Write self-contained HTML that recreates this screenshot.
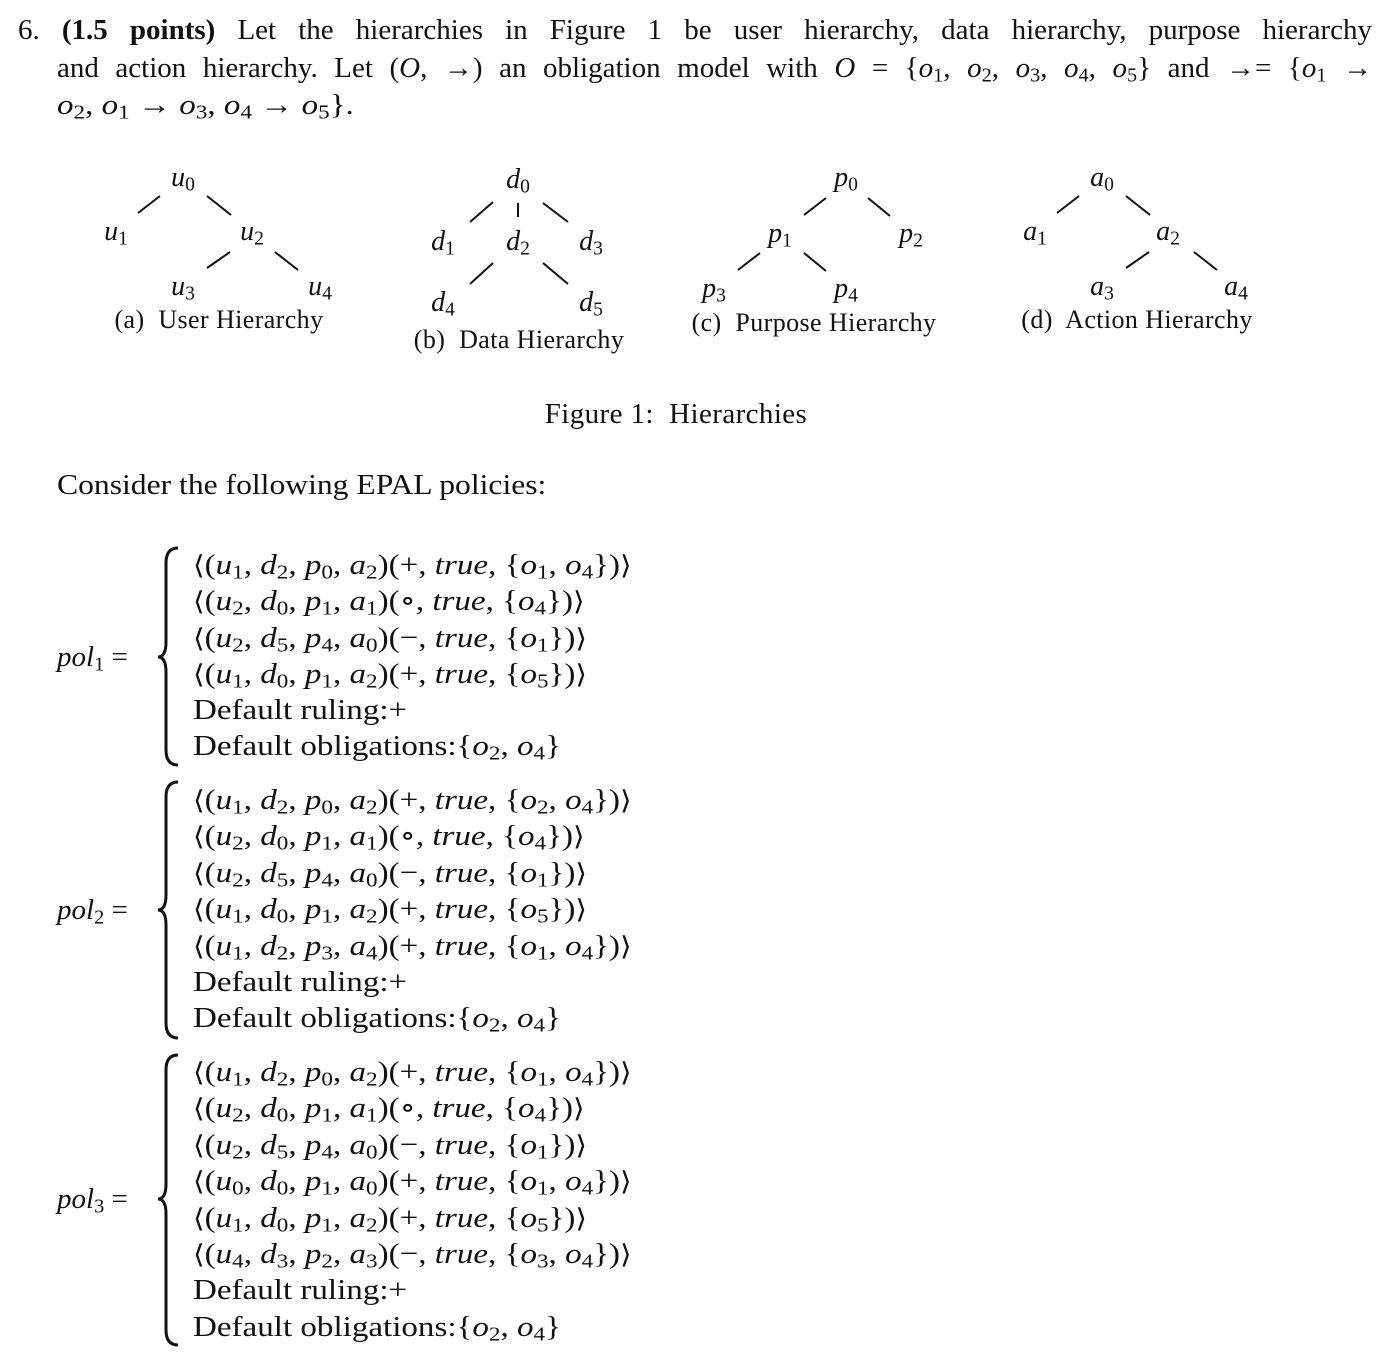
<!DOCTYPE html>
<html><head><meta charset="utf-8"><style>
body{margin:0;width:1398px;height:1368px;background:#fff;position:relative;overflow:hidden;font-family:"Liberation Serif","DejaVu Serif",serif;color:#111;}
.t{position:absolute;white-space:nowrap;font-size:29px;line-height:34px;}
.p{transform:scaleX(1.14);transform-origin:0 50%;}
.n{position:absolute;font-size:28px;line-height:30px;font-style:italic;transform:translate(-50%,-50%);white-space:nowrap;}
.c{position:absolute;font-size:26px;line-height:30px;transform:translate(-50%,-50%);white-space:nowrap;letter-spacing:0.4px;}
sub{font-size:0.7em;vertical-align:-0.22em;font-style:normal;line-height:0;}
.a{font-family:"DejaVu Serif",serif;font-size:0.9em;}
svg{position:absolute;left:0;top:0;}
</style></head><body>
<svg width="1398" height="1368">
<g stroke="#111" stroke-width="2">
<line x1="138" y1="213" x2="160" y2="196"/><line x1="207" y1="196" x2="231" y2="215"/>
<line x1="207" y1="268" x2="230" y2="252"/><line x1="275" y1="252" x2="298" y2="270"/>
<line x1="470" y1="222" x2="493" y2="202"/><line x1="518" y1="203" x2="518" y2="217"/><line x1="543" y1="203" x2="568" y2="222"/>
<line x1="470" y1="284" x2="493" y2="263"/><line x1="543" y1="263" x2="568" y2="284"/>
<line x1="804" y1="215" x2="826" y2="198"/><line x1="868" y1="198" x2="890" y2="216"/>
<line x1="738" y1="270" x2="760" y2="253"/><line x1="804" y1="253" x2="826" y2="271"/>
<line x1="1057" y1="213" x2="1079" y2="196"/><line x1="1126" y1="196" x2="1150" y2="215"/>
<line x1="1126" y1="268" x2="1149" y2="252"/><line x1="1194" y1="252" x2="1217" y2="270"/>
</g>
<g stroke="#111" stroke-width="3" fill="none">
<path d="M178,548 Q166,548 166,563 L166,642 Q166,657 158,657 Q166,657 166,672 L166,750 Q166,765 178,765"/>
<path d="M178,782 Q166,782 166,797 L166,895 Q166,910 158,910 Q166,910 166,925 L166,1023 Q166,1038 178,1038"/>
<path d="M178,1055 Q166,1055 166,1070 L166,1184 Q166,1199 158,1199 Q166,1199 166,1214 L166,1330 Q166,1345 178,1345"/>
</g>
</svg>

<div class="t" style="left:18px;top:13px;width:1354px;text-align:justify;text-align-last:justify;">6. <b>(1.5 points)</b> Let the hierarchies in Figure 1 be user hierarchy, data hierarchy, purpose hierarchy</div>
<div class="t" style="left:57px;top:51px;width:1315px;text-align:justify;text-align-last:justify;">and action hierarchy. Let (<i>O</i>, →) an obligation model with <i>O</i> = {<i>o</i><sub>1</sub>, <i>o</i><sub>2</sub>, <i>o</i><sub>3</sub>, <i>o</i><sub>4</sub>, <i>o</i><sub>5</sub>} and →= {<i>o</i><sub>1</sub> →</div>
<div class="t p" style="left:57px;top:88px;"><i>o</i><sub>2</sub>, <i>o</i><sub>1</sub> → <i>o</i><sub>3</sub>, <i>o</i><sub>4</sub> → <i>o</i><sub>5</sub>}.</div>

<div class="n" style="left:183px;top:178px">u<sub>0</sub></div>
<div class="n" style="left:116px;top:232px">u<sub>1</sub></div>
<div class="n" style="left:252px;top:232px">u<sub>2</sub></div>
<div class="n" style="left:183px;top:287px">u<sub>3</sub></div>
<div class="n" style="left:320px;top:287px">u<sub>4</sub></div>
<div class="c" style="left:219px;top:320px">(a)&nbsp; User Hierarchy</div>

<div class="n" style="left:518px;top:180px">d<sub>0</sub></div>
<div class="n" style="left:443px;top:242px">d<sub>1</sub></div>
<div class="n" style="left:518px;top:242px">d<sub>2</sub></div>
<div class="n" style="left:591px;top:242px">d<sub>3</sub></div>
<div class="n" style="left:443px;top:303px">d<sub>4</sub></div>
<div class="n" style="left:591px;top:303px">d<sub>5</sub></div>
<div class="c" style="left:519px;top:340px">(b)&nbsp; Data Hierarchy</div>

<div class="n" style="left:846px;top:178px">p<sub>0</sub></div>
<div class="n" style="left:780px;top:234px">p<sub>1</sub></div>
<div class="n" style="left:911px;top:234px">p<sub>2</sub></div>
<div class="n" style="left:714px;top:289px">p<sub>3</sub></div>
<div class="n" style="left:846px;top:289px">p<sub>4</sub></div>
<div class="c" style="left:814px;top:323px">(c)&nbsp; Purpose Hierarchy</div>

<div class="n" style="left:1102px;top:178px">a<sub>0</sub></div>
<div class="n" style="left:1035px;top:232px">a<sub>1</sub></div>
<div class="n" style="left:1168px;top:232px">a<sub>2</sub></div>
<div class="n" style="left:1102px;top:287px">a<sub>3</sub></div>
<div class="n" style="left:1236px;top:287px">a<sub>4</sub></div>
<div class="c" style="left:1137px;top:320px">(d)&nbsp; Action Hierarchy</div>

<div class="c" style="left:676px;top:414px;font-size:29px">Figure 1:&nbsp; Hierarchies</div>
<div class="t p" style="left:57px;top:468px;transform:scaleX(1.09)">Consider the following EPAL policies:</div>

<!-- pol1 -->
<div class="t" style="left:57px;top:640px;"><i>pol</i><sub>1</sub> =</div>
<div class="t p" style="left:193px;top:548px;"><span class="a">⟨</span>(<i>u</i><sub>1</sub>, <i>d</i><sub>2</sub>, <i>p</i><sub>0</sub>, <i>a</i><sub>2</sub>)(+, <i>true</i>, {<i>o</i><sub>1</sub>, <i>o</i><sub>4</sub>})<span class="a">⟩</span></div>
<div class="t p" style="left:193px;top:584px;"><span class="a">⟨</span>(<i>u</i><sub>2</sub>, <i>d</i><sub>0</sub>, <i>p</i><sub>1</sub>, <i>a</i><sub>1</sub>)(∘, <i>true</i>, {<i>o</i><sub>4</sub>})<span class="a">⟩</span></div>
<div class="t p" style="left:193px;top:621px;"><span class="a">⟨</span>(<i>u</i><sub>2</sub>, <i>d</i><sub>5</sub>, <i>p</i><sub>4</sub>, <i>a</i><sub>0</sub>)(−, <i>true</i>, {<i>o</i><sub>1</sub>})<span class="a">⟩</span></div>
<div class="t p" style="left:193px;top:657px;"><span class="a">⟨</span>(<i>u</i><sub>1</sub>, <i>d</i><sub>0</sub>, <i>p</i><sub>1</sub>, <i>a</i><sub>2</sub>)(+, <i>true</i>, {<i>o</i><sub>5</sub>})<span class="a">⟩</span></div>
<div class="t p" style="left:193px;top:693px;">Default ruling:+</div>
<div class="t p" style="left:193px;top:729px;">Default obligations:{<i>o</i><sub>2</sub>, <i>o</i><sub>4</sub>}</div>

<!-- pol2 -->
<div class="t" style="left:57px;top:893px;"><i>pol</i><sub>2</sub> =</div>
<div class="t p" style="left:193px;top:783px;"><span class="a">⟨</span>(<i>u</i><sub>1</sub>, <i>d</i><sub>2</sub>, <i>p</i><sub>0</sub>, <i>a</i><sub>2</sub>)(+, <i>true</i>, {<i>o</i><sub>2</sub>, <i>o</i><sub>4</sub>})<span class="a">⟩</span></div>
<div class="t p" style="left:193px;top:819px;"><span class="a">⟨</span>(<i>u</i><sub>2</sub>, <i>d</i><sub>0</sub>, <i>p</i><sub>1</sub>, <i>a</i><sub>1</sub>)(∘, <i>true</i>, {<i>o</i><sub>4</sub>})<span class="a">⟩</span></div>
<div class="t p" style="left:193px;top:856px;"><span class="a">⟨</span>(<i>u</i><sub>2</sub>, <i>d</i><sub>5</sub>, <i>p</i><sub>4</sub>, <i>a</i><sub>0</sub>)(−, <i>true</i>, {<i>o</i><sub>1</sub>})<span class="a">⟩</span></div>
<div class="t p" style="left:193px;top:892px;"><span class="a">⟨</span>(<i>u</i><sub>1</sub>, <i>d</i><sub>0</sub>, <i>p</i><sub>1</sub>, <i>a</i><sub>2</sub>)(+, <i>true</i>, {<i>o</i><sub>5</sub>})<span class="a">⟩</span></div>
<div class="t p" style="left:193px;top:929px;"><span class="a">⟨</span>(<i>u</i><sub>1</sub>, <i>d</i><sub>2</sub>, <i>p</i><sub>3</sub>, <i>a</i><sub>4</sub>)(+, <i>true</i>, {<i>o</i><sub>1</sub>, <i>o</i><sub>4</sub>})<span class="a">⟩</span></div>
<div class="t p" style="left:193px;top:965px;">Default ruling:+</div>
<div class="t p" style="left:193px;top:1001px;">Default obligations:{<i>o</i><sub>2</sub>, <i>o</i><sub>4</sub>}</div>

<!-- pol3 -->
<div class="t" style="left:57px;top:1182px;"><i>pol</i><sub>3</sub> =</div>
<div class="t p" style="left:193px;top:1055px;"><span class="a">⟨</span>(<i>u</i><sub>1</sub>, <i>d</i><sub>2</sub>, <i>p</i><sub>0</sub>, <i>a</i><sub>2</sub>)(+, <i>true</i>, {<i>o</i><sub>1</sub>, <i>o</i><sub>4</sub>})<span class="a">⟩</span></div>
<div class="t p" style="left:193px;top:1091px;"><span class="a">⟨</span>(<i>u</i><sub>2</sub>, <i>d</i><sub>0</sub>, <i>p</i><sub>1</sub>, <i>a</i><sub>1</sub>)(∘, <i>true</i>, {<i>o</i><sub>4</sub>})<span class="a">⟩</span></div>
<div class="t p" style="left:193px;top:1128px;"><span class="a">⟨</span>(<i>u</i><sub>2</sub>, <i>d</i><sub>5</sub>, <i>p</i><sub>4</sub>, <i>a</i><sub>0</sub>)(−, <i>true</i>, {<i>o</i><sub>1</sub>})<span class="a">⟩</span></div>
<div class="t p" style="left:193px;top:1164px;"><span class="a">⟨</span>(<i>u</i><sub>0</sub>, <i>d</i><sub>0</sub>, <i>p</i><sub>1</sub>, <i>a</i><sub>0</sub>)(+, <i>true</i>, {<i>o</i><sub>1</sub>, <i>o</i><sub>4</sub>})<span class="a">⟩</span></div>
<div class="t p" style="left:193px;top:1201px;"><span class="a">⟨</span>(<i>u</i><sub>1</sub>, <i>d</i><sub>0</sub>, <i>p</i><sub>1</sub>, <i>a</i><sub>2</sub>)(+, <i>true</i>, {<i>o</i><sub>5</sub>})<span class="a">⟩</span></div>
<div class="t p" style="left:193px;top:1237px;"><span class="a">⟨</span>(<i>u</i><sub>4</sub>, <i>d</i><sub>3</sub>, <i>p</i><sub>2</sub>, <i>a</i><sub>3</sub>)(−, <i>true</i>, {<i>o</i><sub>3</sub>, <i>o</i><sub>4</sub>})<span class="a">⟩</span></div>
<div class="t p" style="left:193px;top:1273px;">Default ruling:+</div>
<div class="t p" style="left:193px;top:1310px;">Default obligations:{<i>o</i><sub>2</sub>, <i>o</i><sub>4</sub>}</div>
</body></html>
